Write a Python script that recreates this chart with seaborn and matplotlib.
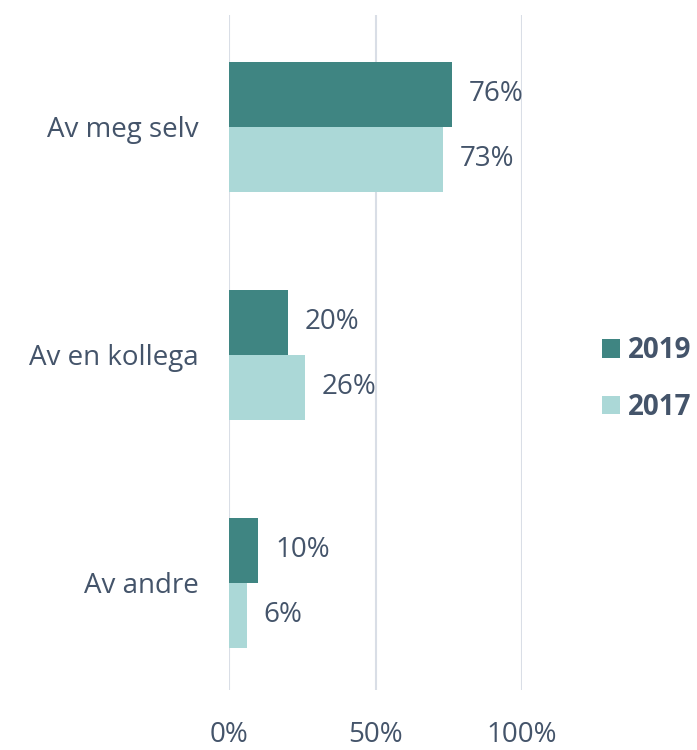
import matplotlib
matplotlib.use("Agg")
import matplotlib.pyplot as plt
import seaborn as sns
import pandas as pd
from matplotlib.patches import Patch

categories = ["Av meg selv", "Av en kollega", "Av andre"]
years = ["2019", "2017"]
values_2019 = [76, 20, 10]
values_2017 = [73, 26, 6]
xticks = [0, 50, 100]
xticklabels = ["0%", "50%", "100%"]

colors = {"2019": "#3F8582", "2017": "#ABD8D7"}
text_color = "#44546A"

df = pd.DataFrame({
    "cat": categories * 2,
    "year": ["2019"] * 3 + ["2017"] * 3,
    "val": values_2019 + values_2017,
})

sns.set_theme(style="white")
plt.rcParams["font.family"] = ["Open Sans", "DejaVu Sans"]

fig = plt.figure(figsize=(6.97, 7.5), dpi=100)
ax = fig.add_axes([229 / 697, 1 - 690 / 750, (522 - 229) / 697, 675 / 750])

sns.barplot(data=df, y="cat", x="val", hue="year", hue_order=years, order=categories,
            palette=colors, orient="h", width=0.57, ax=ax, legend=False,
            saturation=1, edgecolor="none", linewidth=0, zorder=3)

for cont, yr in zip(ax.containers, years):
    labels = [f"{int(v)}%" for v in cont.datavalues]
    ax.bar_label(cont, labels=labels, padding=12, fontsize=20, color=text_color)

ax.set_xlim(0, 100)
ax.set_ylim(2.47, -0.49)
ax.set_xticks(xticks)
ax.set_xticklabels(xticklabels, fontsize=20, color=text_color)
ax.tick_params(axis="x", length=0, pad=22)
ax.tick_params(axis="y", length=0, pad=22, labelsize=20, labelcolor=text_color)
ax.set_xlabel("")
ax.set_ylabel("")
ax.grid(axis="x", color="#D9DEE6", linewidth=1.5, zorder=0)
for s in ax.spines.values():
    s.set_visible(False)

handles = [Patch(facecolor=colors[y], edgecolor="none", label=y) for y in years]
leg = fig.legend(handles=handles, loc="center left", bbox_to_anchor=(602 / 697, 1 - 379 / 750),
                 frameon=False, handlelength=0.65, handleheight=0.65, handletextpad=0.3,
                 labelspacing=1.0, prop={"size": 20, "weight": "bold"},
                 borderaxespad=0, borderpad=0)
for t in leg.get_texts():
    t.set_color(text_color)

fig.savefig("out.png", dpi=100)
